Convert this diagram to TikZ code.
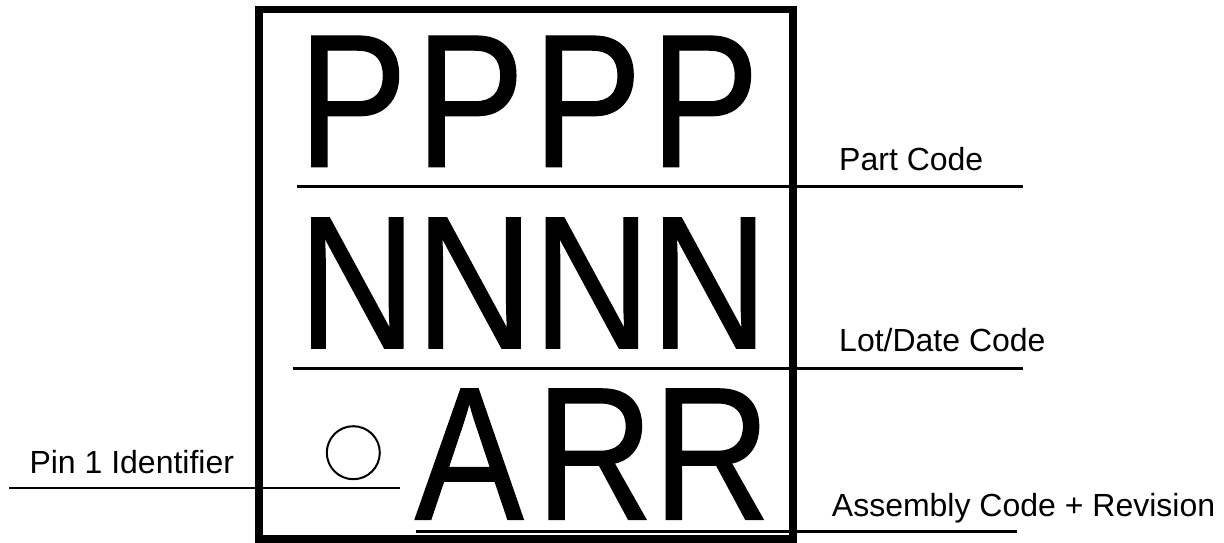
\documentclass[tikz,border=0pt]{standalone}
\usepackage{fontspec}
\setmainfont{Liberation Sans}
\newfontfamily\markfont[FakeStretch=0.86,FakeBold=0.6]{Liberation Sans}
\usetikzlibrary{positioning}

\tikzset{
  markchar/.style={inner sep=0pt, text depth=0pt, anchor=base west, font=\markfont\fontsize{190}{195}\selectfont},
  codelabel/.style={inner sep=0pt, anchor=base west, font=\fontsize{32}{38}\selectfont},
  leader/.style={line width=2.7pt},
  pinmark/.style={circle, draw, line width=2pt, minimum size=53pt, inner sep=0pt}
}

\begin{document}
\begin{tikzpicture}[x=1pt,y=-1pt]
\useasboundingbox (0,0) rectangle (1224,543);

% Package outline
\draw[line width=7.5pt] (259,9.7) rectangle (793,539);

% Marking characters
\foreach \i in {0,...,3} {
  \node[markchar] (p\i) at (298.1+117.3*\i,166.7) {P};
  \node[markchar] (n\i) at (298.1+117.3*\i,348.4) {N};
}
\node[markchar] (a1) at (414.5,519.5) {A};
\node[markchar] (r2) at (535.4,519.5) {R};
\node[markchar] (r3) at (652.6,519.5) {R};

% Pin 1 dot
\node[pinmark] (pin1) at (353.3,452.7) {};

% Leader line ends
\coordinate (part-l) at (296.7,186.3);
\coordinate (part-r) at (1022.7,186.3);
\coordinate (lot-l) at (292.7,368.3);
\coordinate (lot-r) at (1022.7,368.3);
\coordinate (asm-l) at (416,531.5);
\coordinate (asm-r) at (1016.7,531.5);
\coordinate (pin-l) at (9.3,488);
\coordinate (pin-r) at (400,488);

\draw[leader] (part-l) -- (part-r);
\draw[leader] (lot-l) -- (lot-r);
\draw[leader] (asm-l) -- (asm-r);
\draw[leader] (pin-l) -- (pin-r);

% Labels
\node[codelabel] (partlbl) at (839,170.7) {Part Code};
\node[codelabel] (lotlbl) at (839,351.7) {Lot/Date Code};
\node[codelabel] (asmlbl) at (831.7,516) {Assembly Code + Revision};
\node[codelabel] (pinlbl) at (29.3,473.3) {Pin 1 Identifier};
\end{tikzpicture}
\end{document}
